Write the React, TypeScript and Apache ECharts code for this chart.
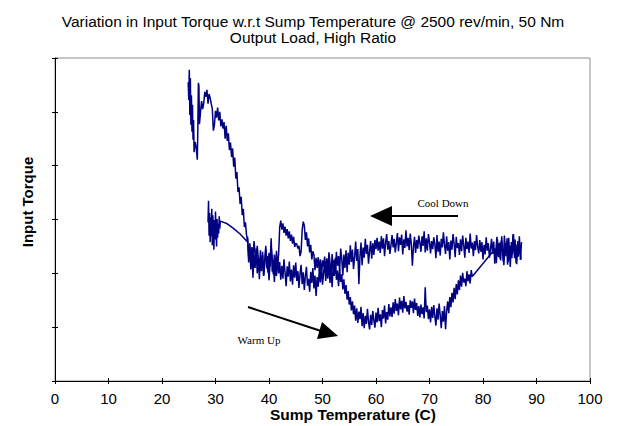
import React, { useEffect, useRef } from "react";
import * as echarts from "echarts";

const titleLines = [
  "Variation in Input Torque w.r.t Sump Temperature @ 2500 rev/min, 50 Nm",
  "Output Load, High Ratio",
];
const xAxisTitle = "Sump Temperature (C)";
const yAxisTitle = "Input Torque";
const xMin = 0;
const xMax = 100;
const xStep = 10;
const yMin = 0;
const yMax = 60;
const yStep = 10;

// Warm up run (temperature rising)
const warmStart: [number, number][] = [
  [28.6, 29.5], [28.7, 33.5], [28.8, 27.0], [28.9, 31.2], [29.0, 25.8], [29.1, 30.4], [29.2, 26.9],
  [29.3, 32.0], [29.4, 25.2], [29.5, 30.8], [29.6, 27.5], [29.7, 24.4], [29.8, 29.9], [29.9, 26.3],
  [30.0, 31.5], [30.1, 27.8], [30.2, 25.0], [30.3, 30.1], [30.4, 26.6], [30.5, 29.2], [30.6, 27.4],
  [30.7, 30.6], [30.8, 28.3], [30.9, 29.7],
  [32.2, 29.2], [33.3, 28.4], [34.6, 27.3], [35.9, 25.9],
];
const warmMain: [number, number][] = [
  [36.0, 26.8], [36.2, 22.0], [36.4, 25.3], [36.6, 20.7], [36.8, 24.1], [37.0, 19.2], [37.2, 23.5],
  [37.4, 21.0], [37.6, 24.6], [37.8, 20.0], [38.0, 22.9], [38.2, 18.9], [38.4, 23.0], [38.6, 20.4],
  [38.8, 24.0], [39.0, 19.6], [39.2, 22.3], [39.4, 25.1], [39.6, 20.9], [39.8, 23.2], [40.0, 18.7],
  [40.2, 21.8], [40.4, 26.5], [40.6, 20.3], [40.8, 22.5], [41.0, 18.4], [41.2, 21.6], [41.4, 19.5],
  [41.6, 23.0], [41.8, 20.0], [42.0, 22.1], [42.2, 18.8], [42.4, 21.4], [42.6, 19.0], [42.8, 22.6],
  [43.0, 20.1], [43.2, 17.6], [43.4, 21.3], [43.6, 19.4], [43.8, 22.2], [44.0, 18.5], [44.2, 20.7],
  [44.4, 17.9], [44.6, 21.5], [44.8, 19.2], [45.0, 22.0], [45.2, 18.6], [45.4, 20.4], [45.6, 17.3],
  [45.8, 19.9], [46.0, 21.6], [46.2, 18.0], [46.4, 20.2], [46.6, 16.9], [46.8, 19.5], [47.0, 21.2],
  [47.2, 17.7], [47.4, 19.0], [47.6, 16.6], [47.8, 20.3], [48.0, 18.2], [48.2, 21.0], [48.4, 17.2],
  [48.6, 19.6], [48.8, 15.8], [49.0, 19.3], [49.2, 17.5], [49.4, 20.6], [49.6, 18.3], [49.8, 21.4],
  [50.0, 17.9], [50.2, 20.0], [50.4, 22.3], [50.6, 18.6], [50.8, 21.1], [51.0, 19.0], [51.2, 22.5],
  [51.4, 18.2], [51.6, 20.8], [51.8, 17.4], [52.0, 21.7], [52.2, 19.5], [52.4, 22.9], [52.6, 18.8],
  [52.8, 20.5], [53.0, 17.6], [53.2, 20.9], [53.4, 18.4], [53.6, 19.8], [53.8, 17.0], [54.0, 18.9],
  [54.2, 16.2], [54.4, 17.8], [54.6, 15.1], [54.8, 16.7], [55.0, 14.2], [55.2, 15.6], [55.4, 13.1],
  [55.6, 14.8], [55.8, 12.4], [56.0, 14.0], [56.2, 11.2], [56.4, 13.5], [56.6, 10.8], [56.8, 12.9],
  [57.0, 11.5], [57.2, 13.8], [57.4, 10.2], [57.6, 12.6], [57.8, 9.8], [58.0, 12.1], [58.2, 10.6],
  [58.4, 13.4], [58.6, 11.0], [58.8, 9.6], [59.0, 12.3], [59.2, 10.4], [59.4, 13.0], [59.6, 11.3],
  [59.8, 9.9], [60.0, 12.7], [60.2, 10.9], [60.4, 13.6], [60.6, 11.1], [60.8, 12.4], [61.0, 10.0],
  [61.2, 13.2], [61.4, 11.6], [61.6, 14.0], [61.8, 10.7], [62.0, 12.8], [62.2, 11.4], [62.4, 14.3],
  [62.6, 12.0], [62.8, 13.7], [63.0, 11.9], [63.2, 14.6], [63.4, 12.5], [63.6, 15.2], [63.8, 13.0],
  [64.0, 14.4], [64.2, 12.2], [64.4, 15.5], [64.6, 13.3], [64.8, 14.9], [65.0, 12.7], [65.2, 15.8],
  [65.4, 13.5], [65.6, 14.7], [65.8, 12.9], [66.0, 14.1], [66.2, 12.3], [66.4, 15.0], [66.6, 13.6],
  [66.8, 14.8], [67.0, 12.6], [67.2, 15.3], [67.4, 13.2], [67.6, 14.5], [67.8, 12.1], [68.0, 13.9],
  [68.2, 11.8], [68.4, 14.2], [68.6, 12.4], [68.8, 13.7], [69.0, 11.6], [69.2, 17.4], [69.4, 12.8],
  [69.6, 14.0], [69.8, 11.5], [70.0, 13.3], [70.2, 10.9], [70.4, 13.8], [70.6, 11.7], [70.8, 14.1],
  [71.0, 12.0], [71.2, 10.3], [71.4, 13.5], [71.6, 11.4], [71.8, 14.4], [72.0, 12.2], [72.2, 9.8],
  [72.4, 13.0], [72.6, 11.0], [72.8, 13.9], [73.0, 9.6], [73.2, 12.9], [73.4, 14.8], [73.6, 12.6],
  [73.8, 15.6], [74.0, 13.7], [74.2, 16.4], [74.4, 14.6], [74.6, 17.3], [74.8, 15.2], [75.0, 18.0],
  [75.2, 16.1], [75.4, 18.7], [75.6, 16.9], [75.8, 19.6], [76.0, 17.5], [76.2, 20.1], [76.4, 18.3],
  [76.6, 19.0], [76.8, 17.6], [77.0, 20.4], [77.2, 18.5], [77.4, 19.8], [77.6, 18.1], [77.8, 20.6],
  [78.0, 19.4],
];
const warmEnd: [number, number][] = [
  [82.3, 24.6], [82.5, 21.9], [82.7, 26.3], [82.9, 23.0], [83.1, 25.7], [83.3, 22.4], [83.5, 26.9],
  [83.7, 23.8], [83.9, 21.5], [84.1, 25.4], [84.3, 23.2], [84.5, 26.5], [84.7, 22.1], [84.9, 24.9],
  [85.1, 21.2], [85.3, 25.8], [85.5, 23.5], [85.7, 27.3], [85.9, 22.8], [86.1, 25.0], [86.3, 21.7],
  [86.5, 26.0], [86.7, 23.6], [86.9, 25.2], [87.1, 22.6],
];

// Cool down run (temperature falling)
const coolFlat: [number, number][] = [
  [87.2, 25.8], [87.0, 22.5], [86.8, 26.9], [86.6, 23.1], [86.4, 25.4], [86.2, 21.9], [86.0, 26.3],
  [85.8, 24.0], [85.6, 27.2], [85.4, 22.8], [85.2, 25.1], [85.0, 23.4], [84.8, 26.6], [84.6, 21.6],
  [84.4, 25.7], [84.2, 23.9], [84.0, 27.0], [83.8, 22.2], [83.6, 24.8], [83.4, 26.1], [83.2, 22.7],
  [83.0, 25.5], [82.8, 23.3], [82.6, 26.8], [82.4, 24.1], [82.2, 21.8], [82.0, 25.9], [81.8, 23.6],
  [81.6, 26.4], [81.4, 24.4], [81.2, 22.9], [81.0, 25.6], [80.8, 24.2], [80.6, 26.7], [80.4, 23.5],
  [80.2, 25.3], [80.0, 22.6], [79.8, 25.8], [79.6, 24.0], [79.4, 26.2], [79.2, 23.7], [79.0, 25.0],
  [78.8, 27.1], [78.6, 24.3], [78.4, 26.0], [78.2, 23.2], [78.0, 25.7], [77.8, 24.6], [77.6, 27.4],
  [77.4, 23.8], [77.2, 25.9], [77.0, 24.5], [76.8, 26.6], [76.6, 22.9], [76.4, 25.2], [76.2, 27.0],
  [76.0, 24.1], [75.8, 26.3], [75.6, 23.4], [75.4, 25.6], [75.2, 24.7], [75.0, 26.8], [74.8, 23.0],
  [74.6, 25.5], [74.4, 27.3], [74.2, 24.4], [74.0, 26.1], [73.8, 22.6], [73.6, 25.8], [73.4, 24.2],
  [73.2, 26.9], [73.0, 23.6], [72.8, 25.3], [72.6, 27.6], [72.4, 24.8], [72.2, 26.4], [72.0, 23.3],
  [71.8, 25.9], [71.6, 24.0], [71.4, 27.1], [71.2, 22.8], [71.0, 25.4], [70.8, 26.7], [70.6, 24.5],
  [70.4, 26.0], [70.2, 23.7], [70.0, 25.8], [69.8, 27.3], [69.6, 24.2], [69.4, 26.5], [69.2, 23.9],
  [69.0, 27.8], [68.8, 25.1], [68.6, 26.9], [68.4, 24.0], [68.2, 25.7], [68.0, 27.0], [67.8, 24.6],
  [67.6, 26.2], [67.4, 23.8], [67.2, 26.8], [67.0, 24.9], [66.8, 21.4], [66.6, 25.5], [66.4, 27.4],
  [66.2, 24.3], [66.0, 26.6], [65.8, 25.0], [65.6, 28.0], [65.4, 24.7], [65.2, 26.3], [65.0, 23.5],
  [64.8, 27.2], [64.6, 25.3], [64.4, 26.7], [64.2, 24.1], [64.0, 27.5], [63.8, 25.6], [63.6, 23.9],
  [63.4, 26.4], [63.2, 24.8], [63.0, 27.1], [62.8, 25.2], [62.6, 23.6], [62.4, 26.0], [62.2, 24.4],
  [62.0, 27.3], [61.8, 25.7], [61.6, 23.2], [61.4, 26.5], [61.2, 24.6], [61.0, 26.9], [60.8, 23.8],
  [60.6, 25.9], [60.4, 24.2], [60.2, 26.6], [60.0, 24.5], [59.8, 26.2], [59.6, 23.4], [59.4, 25.6],
  [59.2, 22.7], [59.0, 26.0], [58.8, 24.1], [58.6, 21.8], [58.4, 25.3], [58.2, 23.6], [58.0, 26.4],
  [57.8, 22.9], [57.6, 24.8], [57.4, 21.5], [57.2, 25.7], [57.0, 23.1], [56.8, 18.0], [56.6, 24.5],
  [56.4, 22.3], [56.2, 25.9], [56.0, 23.0], [55.8, 20.8], [55.6, 24.4], [55.4, 22.1], [55.2, 25.2],
  [55.0, 21.6], [54.8, 23.8], [54.6, 20.2], [54.4, 24.3], [54.2, 21.0], [54.0, 23.5], [53.8, 19.6],
  [53.6, 22.7], [53.4, 24.6], [53.2, 20.5], [53.0, 23.2], [52.8, 21.4], [52.6, 24.0], [52.4, 19.9],
  [52.2, 22.5], [52.0, 20.8], [51.8, 23.6], [51.6, 19.4], [51.4, 22.0], [51.2, 23.9], [51.0, 20.3],
  [50.8, 22.8], [50.6, 19.8], [50.4, 23.1], [50.2, 21.2], [50.0, 22.4], [49.8, 19.7], [49.6, 22.6],
  [49.4, 20.4], [49.2, 23.0], [49.0, 21.0], [48.8, 22.9], [48.6, 20.6], [48.4, 23.4],
];
const coolBumps: [number, number][] = [
  [48.2, 24.1], [48.0, 22.6], [47.8, 25.3], [47.6, 23.9], [47.4, 26.5], [47.2, 25.0], [47.0, 27.6],
  [46.8, 26.2], [46.6, 28.9], [46.4, 29.6], [46.2, 28.0], [46.0, 24.0], [45.8, 23.2], [45.6, 25.1],
  [45.4, 24.6], [45.2, 25.4], [45.0, 25.6], [44.8, 24.9], [44.6, 26.8], [44.4, 25.5], [44.2, 27.2],
  [44.0, 26.0], [43.8, 27.8], [43.6, 26.5], [43.4, 28.2], [43.2, 27.0], [43.0, 28.7], [42.8, 27.5],
  [42.6, 29.3], [42.4, 28.1], [42.2, 29.8], [42.0, 28.6], [41.8, 23.6], [41.6, 21.0], [41.4, 24.2],
  [41.2, 20.4], [41.0, 23.5], [40.8, 19.8], [40.6, 22.9], [40.4, 25.0], [40.2, 21.3], [40.0, 23.8],
  [39.8, 20.1], [39.6, 22.6], [39.4, 24.5], [39.2, 21.7], [39.0, 19.5], [38.8, 23.4], [38.6, 21.1],
  [38.4, 24.3], [38.2, 20.6], [38.0, 22.8], [37.8, 25.1], [37.6, 21.9], [37.4, 23.7], [37.2, 26.0],
  [37.0, 22.4], [36.8, 24.9], [36.6, 21.5], [36.4, 25.6], [36.2, 23.0], [36.0, 26.2],
];
const coolClimb: [number, number][] = [
  [35.8, 27.1], [35.6, 29.5], [35.4, 28.6], [35.2, 32.0], [35.0, 30.8], [34.8, 34.2], [34.6, 32.9],
  [34.4, 36.0], [34.2, 35.1], [34.0, 38.8], [33.8, 37.6], [33.6, 41.5], [33.4, 39.8], [33.2, 43.2],
  [33.0, 41.6], [32.8, 44.3], [32.6, 42.9], [32.4, 46.0], [32.2, 44.6], [32.0, 47.4], [31.8, 45.0],
  [31.6, 48.1], [31.4, 46.9], [31.2, 48.6], [31.0, 47.3], [30.8, 50.0], [30.6, 48.4], [30.4, 50.8],
  [30.2, 48.9], [30.0, 50.2], [29.8, 47.6], [29.6, 46.5], [29.4, 50.6], [29.2, 51.5], [29.0, 52.6],
  [28.8, 53.3], [28.6, 51.5], [28.4, 54.1], [28.2, 52.8], [28.0, 53.7], [27.8, 51.6], [27.6, 50.5],
  [27.4, 52.0], [27.2, 50.0], [27.0, 47.7], [26.9, 54.8], [26.8, 55.4], [26.7, 47.0], [26.6, 41.1],
  [26.4, 43.3], [26.2, 44.4], [26.0, 42.5], [25.9, 48.5], [25.8, 44.8], [25.7, 51.3], [25.6, 46.3],
  [25.5, 53.1], [25.4, 47.6], [25.3, 56.3], [25.2, 49.4], [25.1, 57.8], [25.0, 52.2], [24.9, 55.5],
];

const warmUp = [...warmStart, ...warmMain, ...warmEnd];
const coolDown = [...coolFlat, ...coolBumps, ...coolClimb];

const annotations = { cool: "Cool Down", warm: "Warm Up" };

const FONT = "'Liberation Sans', Arial, sans-serif";
const SERIF = "'Liberation Serif', 'Times New Roman', serif";
const LINE = "#000080";

export default function App() {
  const ref = useRef<HTMLDivElement>(null);
  useEffect(() => {
    const chart = echarts.init(ref.current!, null, { renderer: "svg" });
    const axisCommon = {
      type: "value" as const,
      splitLine: { show: false },
    };
    chart.setOption({
      animation: false,
      backgroundColor: "#ffffff",
      title: {
        text: titleLines.join("\n"),
        left: 308,
        textAlign: "center",
        top: 8,
        textStyle: { fontFamily: FONT, fontSize: 15.5, fontWeight: "normal", color: "#000", lineHeight: 16 },
      },
      grid: { left: 55, right: 31, top: 58, bottom: 45, show: true, borderColor: "#8c8c8c", borderWidth: 1 },
      xAxis: [
        {
          ...axisCommon, min: xMin, max: xMax, interval: xStep, position: "bottom",
          axisLine: { show: true, lineStyle: { color: "#000", width: 1 } },
          axisTick: { show: true, inside: false, length: 3, lineStyle: { color: "#000" } },
          axisLabel: { show: true, margin: 10, fontFamily: FONT, fontSize: 15, color: "#000" },
        },
        {
          ...axisCommon, min: xMin, max: xMax, interval: xStep, position: "bottom",
          axisLine: { show: false },
          axisTick: { show: true, inside: true, length: 3, lineStyle: { color: "#000" } },
          axisLabel: { show: false },
        },
      ],
      yAxis: [
        {
          ...axisCommon, min: yMin, max: yMax, interval: yStep, position: "left",
          axisLine: { show: true, lineStyle: { color: "#000", width: 1 } },
          axisTick: { show: true, inside: false, length: 3, lineStyle: { color: "#000" } },
          axisLabel: { show: false },
        },
        {
          ...axisCommon, min: yMin, max: yMax, interval: yStep, position: "left",
          axisLine: { show: false },
          axisTick: { show: true, inside: true, length: 3, lineStyle: { color: "#000" } },
          axisLabel: { show: false },
        },
      ],
      series: [
        {
          name: "Warm Up", type: "line", data: warmUp, showSymbol: false, symbol: "none",
          xAxisIndex: 0, yAxisIndex: 0,
          lineStyle: { color: LINE, width: 1.5 }, z: 3,
        },
        {
          name: "Cool Down", type: "line", data: coolDown, showSymbol: false, symbol: "none",
          xAxisIndex: 0, yAxisIndex: 0,
          lineStyle: { color: LINE, width: 1.5 }, z: 3,
        },
      ],
      graphic: [
        {
          type: "text", x: 353, y: 414,
          style: { text: xAxisTitle, font: `bold 15.5px ${FONT}`, fill: "#000", align: "center", verticalAlign: "middle" },
        },
        {
          type: "text", x: 27, y: 202, rotation: Math.PI / 2,
          style: { text: yAxisTitle, font: `bold 15px ${FONT}`, fill: "#000", align: "center", verticalAlign: "middle" },
        },
        {
          type: "text", x: 443, y: 203,
          style: { text: annotations.cool, font: `11px ${SERIF}`, fill: "#000", align: "center", verticalAlign: "middle" },
        },
        {
          type: "text", x: 259, y: 340,
          style: { text: annotations.warm, font: `11px ${SERIF}`, fill: "#000", align: "center", verticalAlign: "middle" },
        },
        { type: "line", shape: { x1: 390, y1: 216, x2: 458, y2: 216 }, style: { stroke: "#000", lineWidth: 2 } },
        { type: "polygon", shape: { points: [[370, 216], [392, 206], [392, 226]] }, style: { fill: "#000" } },
        { type: "line", shape: { x1: 248, y1: 307, x2: 321, y2: 331 }, style: { stroke: "#000", lineWidth: 2 } },
        { type: "polygon", shape: { points: [[338, 336], [322, 322], [317, 339]] }, style: { fill: "#000" } },
      ],
    });
    return () => chart.dispose();
  }, []);
  return (
    <div
      ref={ref}
      style={{ position: "absolute", left: 0, top: 0, width: 621, height: 426, background: "#fff" }}
    />
  );
}
